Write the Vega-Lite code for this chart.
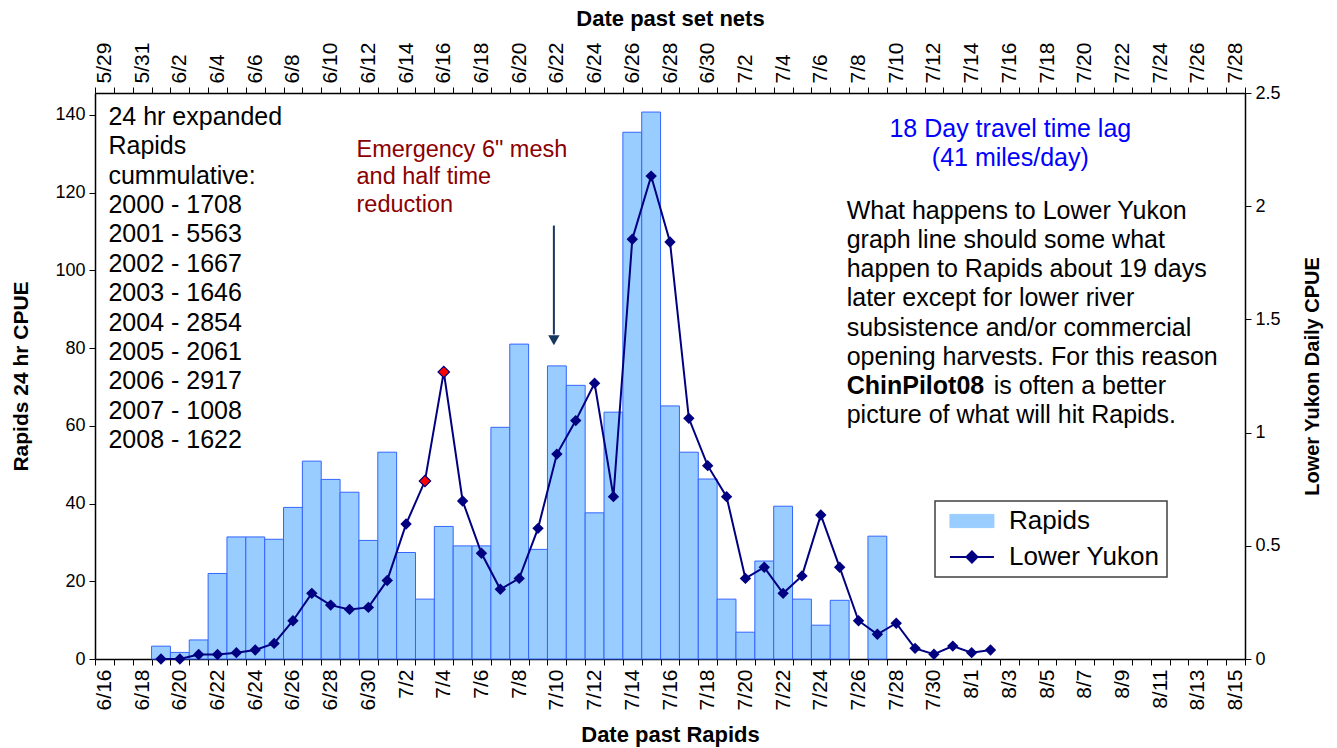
{
  "$schema": "https://vega.github.io/schema/vega-lite/v6.json",
  "width": 1150,
  "height": 566,
  "autosize": {"type": "none"},
  "padding": {"left": 95, "top": 93, "right": 92, "bottom": 89},
  "background": "white",
  "config": {
    "view": {"stroke": null},
    "font": "Liberation Sans",
    "axis": {
      "grid": false,
      "labelFont": "Liberation Sans",
      "labelColor": "black",
      "labelFontSize": 18,
      "titleFont": "Liberation Sans",
      "titleFontWeight": "bold",
      "titleColor": "black",
      "domainColor": "black",
      "tickColor": "black",
      "domainWidth": 1.5,
      "tickWidth": 1,
      "tickSize": 6
    }
  },
  "data": {
    "values": [
      {"date": "6/19", "rapids": 3.3, "yukon": 0},
      {"date": "6/20", "rapids": 1.7, "yukon": 0},
      {"date": "6/21", "rapids": 4.9, "yukon": 0.02},
      {"date": "6/22", "rapids": 22.0, "yukon": 0.02},
      {"date": "6/23", "rapids": 31.4, "yukon": 0.028},
      {"date": "6/24", "rapids": 31.4, "yukon": 0.04},
      {"date": "6/25", "rapids": 30.8, "yukon": 0.069},
      {"date": "6/26", "rapids": 39.0, "yukon": 0.169},
      {"date": "6/27", "rapids": 50.9, "yukon": 0.29},
      {"date": "6/28", "rapids": 46.2, "yukon": 0.238},
      {"date": "6/29", "rapids": 42.9, "yukon": 0.219},
      {"date": "6/30", "rapids": 30.5, "yukon": 0.228},
      {"date": "7/1", "rapids": 53.2, "yukon": 0.347},
      {"date": "7/2", "rapids": 27.4, "yukon": 0.596},
      {"date": "7/3", "rapids": 15.4, "yukon": 0.786},
      {"date": "7/4", "rapids": 34.1, "yukon": 1.268},
      {"date": "7/5", "rapids": 29.1, "yukon": 0.698},
      {"date": "7/6", "rapids": 29.1, "yukon": 0.467},
      {"date": "7/7", "rapids": 59.6, "yukon": 0.308},
      {"date": "7/8", "rapids": 81.0, "yukon": 0.356},
      {"date": "7/9", "rapids": 28.2, "yukon": 0.577},
      {"date": "7/10", "rapids": 75.4, "yukon": 0.905},
      {"date": "7/11", "rapids": 70.4, "yukon": 1.053},
      {"date": "7/12", "rapids": 37.6, "yukon": 1.218},
      {"date": "7/13", "rapids": 63.5, "yukon": 0.717},
      {"date": "7/14", "rapids": 135.5, "yukon": 1.854},
      {"date": "7/15", "rapids": 140.7, "yukon": 2.133},
      {"date": "7/16", "rapids": 65.1, "yukon": 1.842},
      {"date": "7/17", "rapids": 53.2, "yukon": 1.063},
      {"date": "7/18", "rapids": 46.3, "yukon": 0.854},
      {"date": "7/19", "rapids": 15.4, "yukon": 0.717},
      {"date": "7/20", "rapids": 6.9, "yukon": 0.356},
      {"date": "7/21", "rapids": 25.2, "yukon": 0.405},
      {"date": "7/22", "rapids": 39.3, "yukon": 0.29},
      {"date": "7/23", "rapids": 15.4, "yukon": 0.367},
      {"date": "7/24", "rapids": 8.7, "yukon": 0.636},
      {"date": "7/25", "rapids": 15.1, "yukon": 0.405},
      {"date": "7/26", "rapids": null, "yukon": 0.169},
      {"date": "7/27", "rapids": 31.6, "yukon": 0.109},
      {"date": "7/28", "rapids": null, "yukon": 0.158},
      {"date": "7/29", "rapids": null, "yukon": 0.047},
      {"date": "7/30", "rapids": null, "yukon": 0.021},
      {"date": "7/31", "rapids": null, "yukon": 0.057},
      {"date": "8/1", "rapids": null, "yukon": 0.028},
      {"date": "8/2", "rapids": null, "yukon": 0.04}
    ]
  },
  "layer": [
    {
      "layer": [
        {
          "mark": {"type": "bar", "stroke": "#3366FF", "strokeWidth": 1, "opacity": 1},
          "encoding": {
            "x": {
              "field": "date",
              "type": "ordinal",
              "sort": null,
              "scale": {
                "domain": ["6/16","6/17","6/18","6/19","6/20","6/21","6/22","6/23","6/24","6/25","6/26","6/27","6/28","6/29","6/30","7/1","7/2","7/3","7/4","7/5","7/6","7/7","7/8","7/9","7/10","7/11","7/12","7/13","7/14","7/15","7/16","7/17","7/18","7/19","7/20","7/21","7/22","7/23","7/24","7/25","7/26","7/27","7/28","7/29","7/30","7/31","8/1","8/2","8/3","8/4","8/5","8/6","8/7","8/8","8/9","8/10","8/11","8/12","8/13","8/14","8/15"],
                "paddingInner": 0,
                "paddingOuter": 0
              },
              "axis": {
                "orient": "bottom",
                "title": "Date past Rapids",
                "titleFontSize": 22,
                "titlePadding": 15,
                "labelAngle": 270,
                "labelAlign": "right",
                "labelBaseline": "middle",
                "labelFontSize": 21,
                "labelPadding": 4,
                "tickBand": "extent",
                "labelExpr": "(round((time(datetime(2008, toNumber(split(datum.value,'/')[0]) - 1, toNumber(split(datum.value,'/')[1]))) - time(datetime(2008, 5, 16))) / 86400000) % 2 == 0) ? datum.value : ''"
              }
            },
            "y": {
              "field": "rapids",
              "type": "quantitative",
              "scale": {"domain": [0, 145.6], "nice": false, "zero": true},
              "axis": {
                "orient": "left",
                "title": "Rapids 24 hr CPUE",
                "titleFontSize": 21,
                "titlePadding": 23,
                "values": [0, 20, 40, 60, 80, 100, 120, 140],
                "labelPadding": 4
              }
            },
            "color": {
              "datum": "Rapids",
              "scale": {"domain": ["Rapids", "Lower Yukon"], "range": ["#99CCFF", "#000080"]},
              "legend": {
                "orient": "none",
                "legendX": 840,
                "legendY": 408,
                "title": null,
                "fillColor": "white",
                "strokeColor": "#404040",
                "padding": 7,
                "labelOffset": 41,
                "labelFont": "Liberation Sans",
                "labelFontSize": 26,
                "labelColor": "black",
                "symbolSize": 1936,
                "rowPadding": 10,
                "encode": {
                  "legend": {"update": {"strokeWidth": {"value": 1.5}}},
                  "symbols": {
                    "update": {
                      "shape": {"signal": "datum.value === 'Rapids' ? 'M-0.23,-0.3H1.77V0.3H-0.23Z' : 'M-0.23,0H1.77M0.77,-0.25L1.02,0L0.77,0.25L0.52,0Z'"},
                      "fill": {"signal": "datum.value === 'Rapids' ? '#99CCFF' : '#000080'"},
                      "stroke": {"signal": "datum.value === 'Rapids' ? '#3366FF' : '#000080'"},
                      "strokeWidth": {"signal": "datum.value === 'Rapids' ? 1 : 2"},
                      "opacity": {"value": 1}
                    }
                  }
                }
              }
            }
          }
        },
        {
          "data": {"values": [{}]},
          "mark": {"type": "text", "align": "left", "baseline": "alphabetic", "fontSize": 25, "lineHeight": 29.4, "color": "black", "dx": 4},
          "encoding": {
            "x": {"datum": "6/16"},
            "y": {"datum": 137.4},
            "text": {"value": ["24 hr expanded", "Rapids", "cummulative:", "2000 - 1708", "2001 - 5563", "2002 - 1667", "2003 - 1646", "2004 - 2854", "2005 - 2061", "2006 - 2917", "2007 - 1008", "2008 - 1622"]}
          }
        },
        {
          "data": {"values": [{}]},
          "mark": {"type": "text", "align": "left", "baseline": "alphabetic", "fontSize": 23.5, "lineHeight": 27.2, "color": "#8B0000", "dx": 7},
          "encoding": {
            "x": {"datum": "6/29"},
            "y": {"datum": 129.1},
            "text": {"value": ["Emergency 6\" mesh", "and half time", "reduction"]}
          }
        },
        {
          "data": {"values": [{}]},
          "mark": {"type": "text", "align": "center", "baseline": "alphabetic", "fontSize": 25, "lineHeight": 29, "color": "#0000FF", "dx": 1},
          "encoding": {
            "x": {"datum": "8/3"},
            "y": {"datum": 134.4},
            "text": {"value": ["18 Day travel time lag", "(41 miles/day)"]}
          }
        },
        {
          "data": {"values": [{}]},
          "mark": {"type": "text", "align": "left", "baseline": "alphabetic", "fontSize": 25, "lineHeight": 29.1, "color": "black", "dx": 7},
          "encoding": {
            "x": {"datum": "7/25"},
            "y": {"datum": 113.15},
            "text": {"value": ["What happens to Lower Yukon", "graph line should some what", "happen to Rapids about 19 days", "later except for lower river", "subsistence and/or  commercial", "opening harvests. For this reason"]}
          }
        },
        {
          "data": {"values": [{}]},
          "mark": {"type": "text", "align": "left", "baseline": "alphabetic", "fontSize": 25, "fontWeight": "bold", "color": "black", "dx": 7},
          "encoding": {
            "x": {"datum": "7/25"},
            "y": {"datum": 68.2},
            "text": {"value": "ChinPilot08"}
          }
        },
        {
          "data": {"values": [{}]},
          "mark": {"type": "text", "align": "left", "baseline": "alphabetic", "fontSize": 25, "color": "black", "dx": 154},
          "encoding": {
            "x": {"datum": "7/25"},
            "y": {"datum": 68.2},
            "text": {"value": "is often a better"}
          }
        },
        {
          "data": {"values": [{}]},
          "mark": {"type": "text", "align": "left", "baseline": "alphabetic", "fontSize": 25, "color": "black", "dx": 7},
          "encoding": {
            "x": {"datum": "7/25"},
            "y": {"datum": 60.7},
            "text": {"value": "picture of what will hit Rapids."}
          }
        },
        {
          "data": {"values": [{}]},
          "mark": {"type": "rule", "color": "#17375E", "strokeWidth": 2, "xOffset": -3},
          "encoding": {
            "x": {"datum": "7/10"},
            "y": {"datum": 111.5},
            "y2": {"datum": 83.5}
          }
        },
        {
          "data": {"values": [{}]},
          "mark": {"type": "point", "shape": "triangle-down", "filled": true, "color": "#17375E", "size": 130, "opacity": 1, "xOffset": -3},
          "encoding": {
            "x": {"datum": "7/10"},
            "y": {"datum": 82.0}
          }
        }
      ]
    },
    {
      "layer": [
        {
          "mark": {"type": "line", "strokeWidth": 2},
          "encoding": {
            "x": {
              "field": "date",
              "type": "ordinal",
              "sort": null,
              "axis": {
                "orient": "top",
                "title": "Date past set nets",
                "titleFontSize": 22,
                "titlePadding": 12,
                "labelAngle": 270,
                "labelAlign": "left",
                "labelBaseline": "middle",
                "labelFontSize": 21,
                "labelPadding": 4,
                "tickBand": "extent",
                "labelExpr": "(round((time(datetime(2008, toNumber(split(datum.value,'/')[0]) - 1, toNumber(split(datum.value,'/')[1]))) - time(datetime(2008, 5, 16))) / 86400000) % 2 == 0) ? timeFormat(datetime(2008, toNumber(split(datum.value,'/')[0]) - 1, toNumber(split(datum.value,'/')[1]) - 18), '%-m/%-d') : ''"
              }
            },
            "y": {
              "field": "yukon",
              "type": "quantitative",
              "scale": {"domain": [0, 2.5], "nice": false},
              "axis": {
                "orient": "right",
                "title": "Lower Yukon Daily CPUE",
                "titleFontSize": 20,
                "titleAngle": 270,
                "titlePadding": 42,
                "values": [0, 0.5, 1, 1.5, 2, 2.5],
                "format": "~g",
                "labelPadding": 4
              }
            },
            "color": {
              "datum": "Lower Yukon",
              "legend": {
                "orient": "none",
                "legendX": 840,
                "legendY": 408,
                "title": null,
                "fillColor": "white",
                "strokeColor": "#404040",
                "padding": 7,
                "labelOffset": 41,
                "labelFont": "Liberation Sans",
                "labelFontSize": 26,
                "labelColor": "black",
                "symbolSize": 1936,
                "rowPadding": 10,
                "encode": {
                  "legend": {"update": {"strokeWidth": {"value": 1.5}}},
                  "symbols": {
                    "update": {
                      "shape": {"signal": "datum.value === 'Rapids' ? 'M-0.23,-0.3H1.77V0.3H-0.23Z' : 'M-0.23,0H1.77M0.77,-0.25L1.02,0L0.77,0.25L0.52,0Z'"},
                      "fill": {"signal": "datum.value === 'Rapids' ? '#99CCFF' : '#000080'"},
                      "stroke": {"signal": "datum.value === 'Rapids' ? '#3366FF' : '#000080'"},
                      "strokeWidth": {"signal": "datum.value === 'Rapids' ? 1 : 2"},
                      "opacity": {"value": 1}
                    }
                  }
                }
              }
            }
          }
        },
        {
          "mark": {"type": "point", "shape": "diamond", "filled": true, "color": "#000080", "size": 130, "opacity": 1},
          "encoding": {
            "x": {"field": "date", "type": "ordinal", "sort": null},
            "y": {"field": "yukon", "type": "quantitative"}
          }
        },
        {
          "transform": [{"filter": "datum.date == '7/3' || datum.date == '7/4'"}],
          "mark": {"type": "point", "shape": "diamond", "filled": true, "fill": "#FF0000", "stroke": "#000080", "strokeWidth": 1.2, "size": 130, "opacity": 1},
          "encoding": {
            "x": {"field": "date", "type": "ordinal", "sort": null},
            "y": {"field": "yukon", "type": "quantitative"}
          }
        }
      ]
    }
  ],
  "resolve": {"scale": {"y": "independent"}, "axis": {"x": "independent"}}
}
